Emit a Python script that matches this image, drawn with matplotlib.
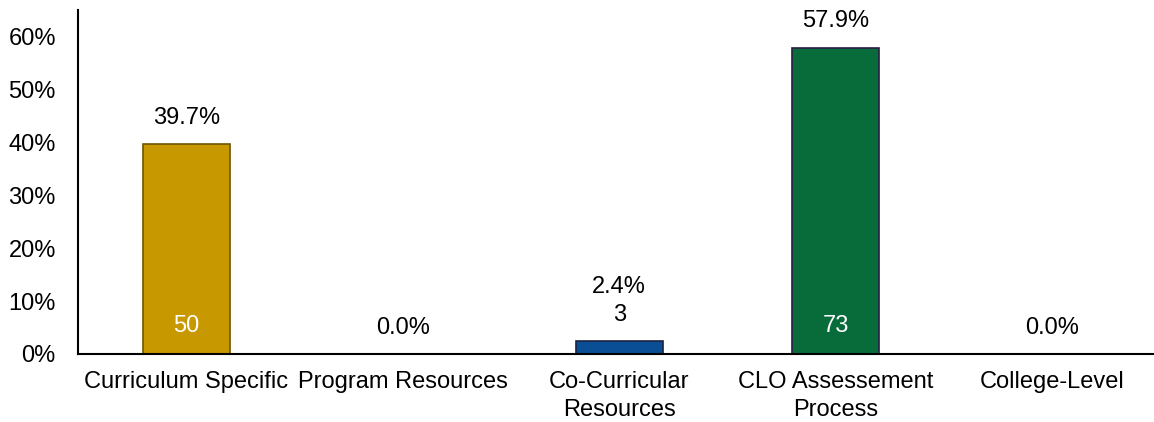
import matplotlib.pyplot as plt
import numpy as np

plt.rcParams['font.family'] = ['Liberation Sans', 'DejaVu Sans']

categories = ['Curriculum Specific', 'Program Resources', 'Co-Curricular\nResources',
              'CLO Assessement\nProcess', 'College-Level']
pcts = [39.7, 0.0, 2.4, 57.9, 0.0]
counts = [50, 0, 3, 73, 0]
colors = ['#C89800', '#C89800', '#0A4F95', '#076B3A', '#076B3A']
edges = ['#6E5500', '#6E5500', '#1A2240', '#2B1B45', '#2B1B45']

fig = plt.figure(figsize=(11.54, 4.22), dpi=100)
ax = fig.add_axes([78 / 1154, 68 / 422, 1076 / 1154, 344 / 422])

x = np.arange(len(pcts))
ax.bar(x, pcts, width=0.4, color=colors, edgecolor=edges, linewidth=1.2)

fs = 17
for xi, p, c in zip(x, pcts, counts):
    if p > 5:
        ax.annotate(f'{p:.1f}%', (xi, p), xytext=(0, 19), textcoords='offset points',
                    ha='center', va='center', fontsize=fs)
        ax.annotate(str(c), (xi, 0), xytext=(0, 20), textcoords='offset points',
                    ha='center', va='center', fontsize=fs, color='white')
    elif c > 0:
        ax.annotate(str(c), (xi, p), xytext=(0, 19), textcoords='offset points',
                    ha='center', va='center', fontsize=fs)
        ax.annotate(f'{p:.1f}%', (xi, p), xytext=(0, 39), textcoords='offset points',
                    ha='center', va='center', fontsize=fs)
    else:
        ax.annotate(f'{p:.1f}%', (xi, p), xytext=(0, 19), textcoords='offset points',
                    ha='center', va='center', fontsize=fs)

ax.set_xlim(-0.5, 4.47)
ax.set_ylim(0, 65)
ax.set_yticks(np.arange(0, 61, 10))
ax.set_yticklabels([f'{v}%' for v in range(0, 61, 10)], fontsize=fs)
ax.set_xticks(x)
ax.set_xticklabels(categories, fontsize=fs, linespacing=1.35)
ax.tick_params(length=0, axis='x', pad=12)
ax.tick_params(length=0, axis='y', pad=16)
for s in ['top', 'right']:
    ax.spines[s].set_visible(False)
ax.spines['left'].set_linewidth(1.5)
ax.spines['bottom'].set_linewidth(1.5)

fig.savefig('out.png', dpi=100)
